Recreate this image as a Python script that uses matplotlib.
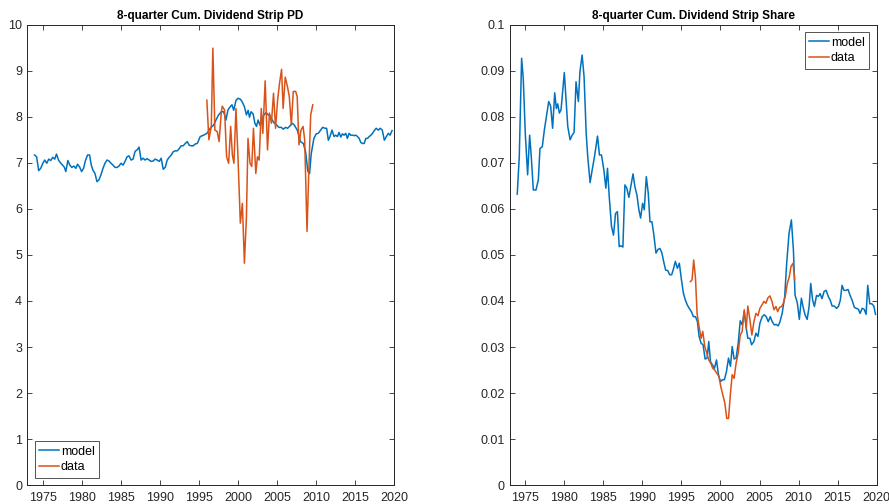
import numpy as np
import matplotlib
matplotlib.use("Agg")
import matplotlib.pyplot as plt

plt.rcParams['font.family'] = ['Liberation Sans', 'DejaVu Sans']

# ---------------- Left panel: 8-quarter cum. dividend strip PD ----------------
pd_model_years = [
    1973.97, 1974.23, 1974.49, 1974.75, 1975.05, 1975.27, 1975.52, 1975.78, 1976.04, 1976.30,
    1976.55, 1976.77, 1977.03, 1977.28, 1977.54, 1977.76, 1977.97, 1978.23, 1978.48, 1978.74,
    1979.00, 1979.26, 1979.47, 1979.73, 1979.99, 1980.24, 1980.50, 1980.76, 1981.01, 1981.23,
    1981.44, 1981.70, 1981.96, 1982.21, 1982.47, 1982.73, 1982.98, 1983.24, 1983.50, 1983.76,
    1984.01, 1984.27, 1984.53, 1984.78, 1985.04, 1985.30, 1985.55, 1985.81, 1986.07, 1986.33,
    1986.58, 1986.84, 1987.10, 1987.35, 1987.61, 1987.87, 1988.12, 1988.38, 1988.64, 1988.90,
    1989.15, 1989.41, 1989.67, 1989.93, 1990.18, 1990.44, 1990.70, 1990.95, 1991.21, 1991.47,
    1991.72, 1991.98, 1992.24, 1992.50, 1992.75, 1993.01, 1993.27, 1993.52, 1993.78, 1994.04,
    1994.29, 1994.55, 1994.81, 1995.18, 1995.61, 1996.04, 1996.47, 1996.90, 1997.20, 1997.54,
    1997.88, 1998.18, 1998.48, 1998.74, 1999.04, 1999.25, 1999.47, 1999.77, 2000.03, 2000.33,
    2000.54, 2000.84, 2001.10, 2001.32, 2001.49, 2001.70, 2001.96, 2002.18, 2002.39, 2002.60,
    2002.82, 2003.03, 2003.33, 2003.63, 2003.89, 2004.14, 2004.40, 2004.66, 2004.96, 2005.26,
    2005.56, 2005.82, 2006.12, 2006.37, 2006.67, 2006.97, 2007.23, 2007.61, 2008.03, 2008.38,
    2008.68, 2008.97, 2009.19, 2009.40, 2009.74, 2010.04, 2010.30, 2010.60, 2010.86, 2011.16,
    2011.37, 2011.59, 2011.80, 2012.06, 2012.32, 2012.53, 2012.75, 2012.96, 2013.18, 2013.39,
    2013.60, 2013.82, 2014.03, 2014.25, 2014.46, 2014.68, 2014.89, 2015.11, 2015.32, 2015.54,
    2015.75, 2015.96, 2016.18, 2016.39, 2016.61, 2016.82, 2017.04, 2017.25, 2017.47, 2017.72,
    2017.98, 2018.24, 2018.50, 2018.76, 2019.02, 2019.28, 2019.50, 2019.75]
pd_model_values = [
    7.17, 7.13, 6.83, 6.88, 7.00, 7.06, 6.99, 7.08, 7.05, 7.12,
    7.08, 7.19, 7.06, 7.00, 6.95, 6.91, 6.81, 7.05, 6.95, 6.90,
    6.93, 6.88, 6.97, 6.91, 6.81, 6.88, 7.06, 7.17, 7.17, 6.95,
    6.84, 6.77, 6.59, 6.63, 6.74, 6.88, 6.99, 7.06, 7.04, 6.99,
    6.95, 6.90, 6.90, 6.93, 6.99, 6.95, 7.03, 7.13, 7.15, 7.06,
    7.08, 7.25, 7.28, 7.34, 7.06, 7.10, 7.06, 7.09, 7.06, 7.03,
    7.04, 7.08, 7.06, 7.03, 7.10, 6.86, 6.90, 7.06, 7.12, 7.17,
    7.24, 7.26, 7.26, 7.31, 7.37, 7.37, 7.42, 7.46, 7.38, 7.37,
    7.37, 7.41, 7.42, 7.57, 7.60, 7.64, 7.75, 7.82, 7.93, 8.04,
    8.11, 8.11, 7.93, 8.15, 8.22, 8.26, 8.14, 8.36, 8.40, 8.38,
    8.33, 8.22, 8.04, 8.14, 7.99, 8.11, 8.06, 7.86, 7.79, 7.93,
    7.82, 7.93, 8.04, 8.09, 8.04, 8.02, 7.93, 7.86, 7.82, 7.77,
    7.77, 7.73, 7.77, 7.75, 7.80, 7.86, 7.82, 7.71, 7.46, 7.42,
    7.24, 6.81, 6.77, 7.20, 7.53, 7.63, 7.64, 7.71, 7.77, 7.75,
    7.75, 7.49, 7.57, 7.71, 7.57, 7.60, 7.57, 7.66, 7.56, 7.63,
    7.60, 7.64, 7.53, 7.64, 7.60, 7.60, 7.59, 7.60, 7.57, 7.53,
    7.44, 7.42, 7.42, 7.53, 7.53, 7.57, 7.60, 7.64, 7.70, 7.75,
    7.71, 7.75, 7.71, 7.49, 7.57, 7.64, 7.60, 7.70]

pd_data_years = [
    1996.03, 1996.29, 1996.60, 1996.80, 1997.06, 1997.36, 1997.60, 1997.87, 1998.00, 1998.30,
    1998.56, 1998.82, 1999.08, 1999.30, 1999.50, 1999.76, 2000.00, 2000.32, 2000.58, 2000.84,
    2001.10, 2001.30, 2001.56, 2001.78, 2002.00, 2002.30, 2002.51, 2002.73, 2003.00, 2003.20,
    2003.50, 2003.80, 2004.05, 2004.30, 2004.57, 2004.83, 2005.09, 2005.34, 2005.60, 2005.80,
    2006.07, 2006.37, 2006.59, 2006.85, 2007.10, 2007.40, 2007.60, 2007.83, 2008.09, 2008.35,
    2008.56, 2008.86, 2009.08, 2009.33, 2009.60]
pd_data_values = [
    8.36, 7.50, 7.79, 9.49, 7.71, 7.68, 7.46, 8.08, 8.23, 8.15,
    7.13, 6.99, 7.79, 7.17, 6.99, 8.18, 7.20, 5.69, 6.12, 4.82,
    5.83, 7.53, 6.99, 6.92, 7.75, 6.77, 7.13, 7.06, 8.18, 7.64,
    8.78, 7.28, 8.08, 7.86, 8.51, 7.75, 8.36, 8.73, 9.03, 8.18,
    8.86, 8.64, 8.44, 7.82, 8.55, 8.55, 8.44, 7.39, 7.71, 7.79,
    7.50, 5.51, 6.77, 8.04, 8.26]

# ---------------- Right panel: 8-quarter cum. dividend strip share ----------------
sh_model_years = [
    1973.97, 1974.23, 1974.53, 1974.74, 1975.00, 1975.30, 1975.56, 1975.77, 1976.03, 1976.37,
    1976.67, 1976.88, 1977.18, 1977.44, 1977.74, 1978.00, 1978.25, 1978.50, 1978.77, 1978.98,
    1979.15, 1979.37, 1979.58, 1980.00, 1980.22, 1980.44, 1980.74, 1981.00, 1981.25, 1981.50,
    1981.80, 1982.00, 1982.28, 1982.53, 1982.80, 1983.00, 1983.30, 1983.60, 1983.86, 1984.25,
    1984.50, 1984.76, 1985.06, 1985.32, 1985.53, 1985.75, 1986.04, 1986.30, 1986.56, 1986.80,
    1987.03, 1987.24, 1987.50, 1987.76, 1988.00, 1988.27, 1988.53, 1988.80, 1989.04, 1989.30,
    1989.55, 1989.77, 1990.03, 1990.24, 1990.50, 1990.75, 1990.97, 1991.22, 1991.44, 1991.74,
    1992.00, 1992.25, 1992.50, 1992.77, 1992.98, 1993.24, 1993.50, 1993.75, 1994.00, 1994.22,
    1994.48, 1994.73, 1995.00, 1995.25, 1995.50, 1995.76, 1996.00, 1996.27, 1996.53, 1996.80,
    1997.05, 1997.26, 1997.52, 1997.77, 1998.03, 1998.29, 1998.50, 1998.72, 1998.97, 1999.23,
    1999.49, 1999.74, 2000.00, 2000.26, 2000.50, 2000.77, 2001.03, 2001.28, 2001.50, 2001.75,
    2002.00, 2002.27, 2002.53, 2002.78, 2003.04, 2003.30, 2003.50, 2003.77, 2003.98, 2004.28,
    2004.54, 2004.80, 2005.05, 2005.35, 2005.60, 2005.86, 2006.12, 2006.38, 2006.63, 2006.90,
    2007.15, 2007.40, 2007.62, 2007.90, 2008.22, 2008.48, 2008.78, 2009.08, 2009.34, 2009.55,
    2009.85, 2010.10, 2010.36, 2010.62, 2010.83, 2011.10, 2011.35, 2011.56, 2011.80, 2012.03,
    2012.30, 2012.55, 2012.76, 2013.00, 2013.28, 2013.54, 2013.80, 2014.05, 2014.30, 2014.57,
    2014.87, 2015.13, 2015.35, 2015.57, 2015.82, 2016.08, 2016.34, 2016.60, 2016.85, 2017.15,
    2017.40, 2017.66, 2017.88, 2018.14, 2018.40, 2018.65, 2018.86, 2019.12, 2019.38, 2019.64,
    2019.85]
sh_model_values = [
    0.0632, 0.0713, 0.0927, 0.0883, 0.0764, 0.0674, 0.0760, 0.0713, 0.0641, 0.0641,
    0.0663, 0.0731, 0.0735, 0.0771, 0.0804, 0.0833, 0.0823, 0.0775, 0.0852, 0.0818,
    0.0828, 0.0808, 0.0815, 0.0896, 0.0836, 0.0779, 0.0750, 0.0760, 0.0766, 0.0876,
    0.0833, 0.0898, 0.0934, 0.0887, 0.0764, 0.0713, 0.0657, 0.0688, 0.0713, 0.0758,
    0.0717, 0.0717, 0.0685, 0.0645, 0.0688, 0.0627, 0.0562, 0.0543, 0.0590, 0.0594,
    0.0518, 0.0520, 0.0517, 0.0652, 0.0645, 0.0625, 0.0650, 0.0676, 0.0648, 0.0630,
    0.0598, 0.0580, 0.0612, 0.0598, 0.0670, 0.0634, 0.0572, 0.0572, 0.0547, 0.0504,
    0.0512, 0.0514, 0.0504, 0.0482, 0.0467, 0.0466, 0.0457, 0.0457, 0.0471, 0.0486,
    0.0471, 0.0482, 0.0446, 0.0417, 0.0402, 0.0391, 0.0384, 0.0377, 0.0366, 0.0366,
    0.0355, 0.0323, 0.0308, 0.0305, 0.0274, 0.0276, 0.0312, 0.0268, 0.0261, 0.0254,
    0.0272, 0.0240, 0.0225, 0.0229, 0.0229, 0.0247, 0.0276, 0.0258, 0.0301, 0.0274,
    0.0276, 0.0308, 0.0357, 0.0348, 0.0377, 0.0341, 0.0319, 0.0319, 0.0305, 0.0312,
    0.0330, 0.0323, 0.0352, 0.0366, 0.0370, 0.0366, 0.0355, 0.0366, 0.0355, 0.0348,
    0.0349, 0.0346, 0.0355, 0.0373, 0.0409, 0.0482, 0.0547, 0.0576, 0.0511, 0.0413,
    0.0395, 0.0360, 0.0406, 0.0384, 0.0370, 0.0360, 0.0388, 0.0438, 0.0402, 0.0388,
    0.0412, 0.0410, 0.0416, 0.0405, 0.0421, 0.0423, 0.0410, 0.0402, 0.0389, 0.0389,
    0.0384, 0.0389, 0.0402, 0.0434, 0.0423, 0.0423, 0.0425, 0.0412, 0.0402, 0.0386,
    0.0384, 0.0382, 0.0373, 0.0384, 0.0382, 0.0371, 0.0434, 0.0394, 0.0394, 0.0389,
    0.0371]

sh_data_years = [
    1996.15, 1996.36, 1996.57, 1996.80, 1997.00, 1997.26, 1997.52, 1997.73, 1997.99, 1998.24,
    1998.50, 1998.76, 1999.00, 1999.27, 1999.53, 1999.80, 2000.04, 2000.30, 2000.56, 2000.80,
    2001.03, 2001.28, 2001.50, 2001.75, 2002.00, 2002.27, 2002.53, 2002.78, 2003.04, 2003.30,
    2003.50, 2003.77, 2004.02, 2004.28, 2004.54, 2004.80, 2005.05, 2005.30, 2005.56, 2005.82,
    2006.08, 2006.34, 2006.60, 2006.85, 2007.10, 2007.32, 2007.57, 2007.83, 2008.05, 2008.30,
    2008.56, 2008.82, 2009.03, 2009.30, 2009.50]
sh_data_values = [
    0.0442, 0.0446, 0.0489, 0.0449, 0.0373, 0.0344, 0.0319, 0.0334, 0.0301, 0.0287,
    0.0272, 0.0265, 0.0254, 0.0250, 0.0243, 0.0236, 0.0214, 0.0196, 0.0178, 0.0145,
    0.0145, 0.0200, 0.0240, 0.0232, 0.0265, 0.0287, 0.0326, 0.0334, 0.0381, 0.0341,
    0.0389, 0.0359, 0.0326, 0.0355, 0.0373, 0.0368, 0.0384, 0.0391, 0.0399, 0.0395,
    0.0407, 0.0411, 0.0399, 0.0381, 0.0388, 0.0377, 0.0386, 0.0388, 0.0395, 0.0410,
    0.0438, 0.0453, 0.0475, 0.0482, 0.0446]

x_ticks = [1975, 1980, 1985, 1990, 1995, 2000, 2005, 2010, 2015, 2020]
pd_yticks = [0, 1, 2, 3, 4, 5, 6, 7, 8, 9, 10]
sh_yticks = [0, 0.01, 0.02, 0.03, 0.04, 0.05, 0.06, 0.07, 0.08, 0.09, 0.1]
sh_yticklabels = ['0', '0.01', '0.02', '0.03', '0.04', '0.05', '0.06', '0.07', '0.08', '0.09', '0.1']

BLUE = '#0072BD'
ORANGE = '#D95319'
AXC = '#262626'

fig = plt.figure(figsize=(8.89, 5.04), dpi=100)
ax1 = fig.add_axes([0.0304, 0.0373, 0.4128, 0.9138])
ax2 = fig.add_axes([0.5733, 0.0373, 0.4128, 0.9138])


def style(ax, title):
    ax.set_xlim(1973, 2020)
    ax.set_xticks(x_ticks)
    ax.tick_params(direction='in', top=True, right=True, length=3.5, width=0.6,
                   colors=AXC, labelsize=9)
    ax.tick_params(axis='x', pad=5)
    ax.tick_params(axis='y', pad=3.5)
    for s in ax.spines.values():
        s.set_color(AXC)
        s.set_linewidth(0.7)
    ax.set_title(title, fontsize=8.5, fontweight='bold', color='black', pad=4)


def add_legend(ax, loc):
    leg = ax.legend(loc=loc, fontsize=9, frameon=True, fancybox=False,
                    edgecolor=AXC, handlelength=1.6, handletextpad=0.15,
                    borderpad=0.35, labelspacing=0.3, borderaxespad=0.6)
    leg.get_frame().set_linewidth(0.7)
    return leg


ax1.plot(pd_model_years, pd_model_values, color=BLUE, lw=1.1, label='model')
ax1.plot(pd_data_years, pd_data_values, color=ORANGE, lw=1.1, label='data')
style(ax1, '8-quarter Cum. Dividend Strip PD')
ax1.set_ylim(0, 10)
ax1.set_yticks(pd_yticks)
ax1.set_yticklabels([str(v) for v in pd_yticks])
add_legend(ax1, 'lower left')

ax2.plot(sh_model_years, sh_model_values, color=BLUE, lw=1.1, label='model')
ax2.plot(sh_data_years, sh_data_values, color=ORANGE, lw=1.1, label='data')
style(ax2, '8-quarter Cum. Dividend Strip Share')
ax2.set_ylim(0, 0.1)
ax2.set_yticks(sh_yticks)
ax2.set_yticklabels(sh_yticklabels)
add_legend(ax2, 'upper right')

fig.savefig('out.png', dpi=100)
